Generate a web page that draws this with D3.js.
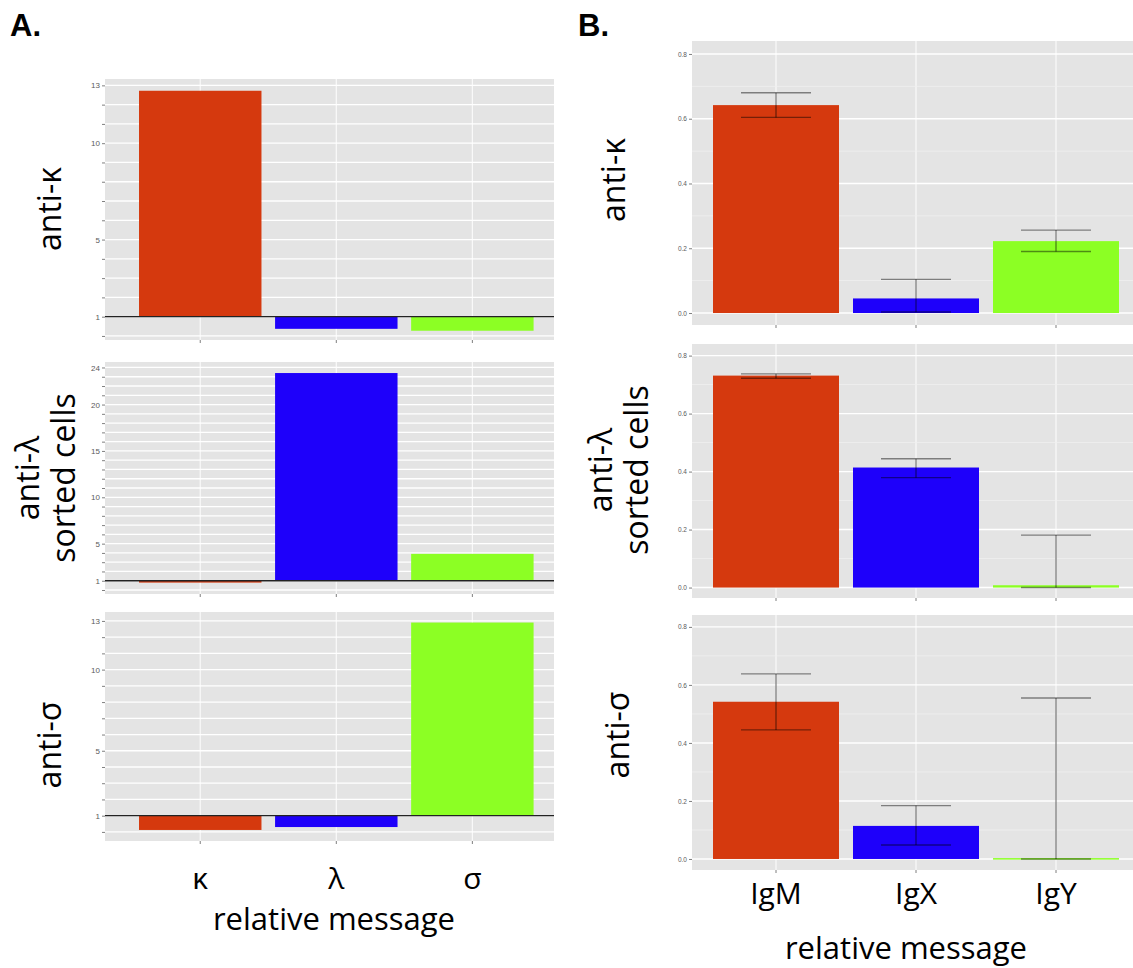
<!DOCTYPE html>
<html>
<head>
<meta charset="utf-8">
<script src="https://cdn.jsdelivr.net/npm/d3@7"></script>
<style>
  body { margin: 0; background: #fff; }
  svg { display: block; }
  .lbl { font-family: "Open Sans", sans-serif; fill: #000; }
  .tick text { font-family: "Liberation Sans", Arial, sans-serif; fill: #5a5a5a; }
</style>
</head>
<body>
<svg id="SVG_CONTAINER" width="1133" height="968"></svg>
<script>
// categories
const catsA = ["κ", "λ", "σ"];
const catsB = ["IgM", "IgX", "IgY"];

// panel A: relative message, baseline at 1
const aAntiKappa  = [12.72, 0.37, 0.27];
const aAntiLambda = [0.80, 23.4, 3.9];
const aAntiSigma  = [0.12, 0.30, 12.9];
const aTicksTop = [1, 5, 10, 13];
const aTicksMid = [1, 5, 10, 15, 20, 24];
const aTicksBot = [1, 5, 10, 13];

// panel B: means with error bar bounds
const bAntiKappa     = [0.642, 0.045, 0.222];
const bAntiKappaLo   = [0.604, 0.003, 0.190];
const bAntiKappaHi   = [0.680, 0.104, 0.256];
const bAntiLambda    = [0.731, 0.414, 0.008];
const bAntiLambdaLo  = [0.722, 0.379, 0.000];
const bAntiLambdaHi  = [0.737, 0.444, 0.181];
const bAntiSigma     = [0.542, 0.114, 0.003];
const bAntiSigmaLo   = [0.445, 0.048, 0.000];
const bAntiSigmaHi   = [0.638, 0.184, 0.555];
const bTicks = [0, 0.2, 0.4, 0.6, 0.8];

const COLOURS = ["#D5390E", "#1E00FA", "#8CFF24"];

window.onload = function () {
    let svg = d3.select("#SVG_CONTAINER");

    // ** PANEL A *****************************************
    let xA = d3.scaleLinear().domain([-0.7, 2.6]).range([105, 554]);
    panelA(svg, xA, [-0.21, 13.33], [340, 79], aAntiKappa, aTicksTop);
    panelA(svg, xA, [-0.43, 24.59], [594, 362], aAntiLambda, aTicksMid);
    panelA(svg, xA, [-0.56, 13.55], [841, 612], aAntiSigma, aTicksBot);

    // ** PANEL B *****************************************
    let xB = d3.scaleLinear().domain([-0.6, 2.55]).range([692, 1133]);
    panelB(svg, xB, [-0.037, 0.84], [325, 41], bAntiKappa, bAntiKappaLo, bAntiKappaHi);
    panelB(svg, xB, [-0.036, 0.84], [598, 344], bAntiLambda, bAntiLambdaLo, bAntiLambdaHi);
    panelB(svg, xB, [-0.038, 0.841], [870, 615], bAntiSigma, bAntiSigmaLo, bAntiSigmaHi);

    // ** TEXTS *****************************************
    svg.append("text").attr("x", 10).attr("y", 36)
        .style("font-family", "Liberation Sans, Arial, sans-serif")
        .style("font-weight", "bold").style("font-size", "31px").text("A.");
    svg.append("text").attr("x", 578).attr("y", 36)
        .style("font-family", "Liberation Sans, Arial, sans-serif")
        .style("font-weight", "bold").style("font-size", "31px").text("B.");

    rowLabel(svg, 50, 209, ["anti-κ"]);
    rowLabel(svg, 46, 478, ["anti-λ", "sorted cells"]);
    rowLabel(svg, 50, 745, ["anti-σ"]);
    rowLabel(svg, 614, 180, ["anti-κ"]);
    rowLabel(svg, 619, 470, ["anti-λ", "sorted cells"]);
    rowLabel(svg, 618, 735, ["anti-σ"]);

    catsA.forEach(function (c, i) {
        svg.append("text").attr("class", "lbl")
            .attr("x", xA(i)).attr("y", 889)
            .attr("text-anchor", "middle").style("font-size", "30px").text(c);
    });
    svg.append("text").attr("class", "lbl")
        .attr("x", 334).attr("y", 930)
        .attr("text-anchor", "middle").style("font-size", "31px").text("relative message");

    catsB.forEach(function (c, i) {
        svg.append("text").attr("class", "lbl")
            .attr("x", xB(i)).attr("y", 904)
            .attr("text-anchor", "middle").style("font-size", "30px").text(c);
    });
    svg.append("text").attr("class", "lbl")
        .attr("x", 906).attr("y", 959)
        .attr("text-anchor", "middle").style("font-size", "31px").text("relative message");
};

// rotated row label, one or two lines
rowLabel = function (svg, x, y, lines) {
    let t = svg.append("text").attr("class", "lbl")
        .attr("transform", "translate(" + x + "," + y + ") rotate(-90)")
        .attr("text-anchor", "middle")
        .style("font-size", "32px");
    let off = -(lines.length - 1) * 0.56;
    lines.forEach(function (l, i) {
        t.append("tspan").attr("x", 0)
            .attr("dy", i === 0 ? (off + 0.35) + "em" : "1.12em")
            .text(l);
    });
};

// grey panel with gridlines
drawFrame = function (g, x, y, ncat) {
    let [x0, x1] = x.range();
    let [y0, y1] = y.range();
    g.append("rect").attr("x", x0).attr("y", y1)
        .attr("width", x1 - x0).attr("height", y0 - y1)
        .style("fill", "#E4E4E4");
    for (let i = 0; i < ncat; i++) {
        g.append("line")
            .attr("x1", x(i)).attr("x2", x(i))
            .attr("y1", y1).attr("y2", y0)
            .style("stroke", "#fafafa").style("stroke-width", 1.2);
        g.append("line")
            .attr("x1", x(i)).attr("x2", x(i))
            .attr("y1", y0).attr("y2", y0 + 3)
            .style("stroke", "#7f7f7f").style("stroke-width", 1);
    }
};

panelA = function (svg, x, domain, range, values, ticks) {
    let g = svg.append("g").attr("class", "panelA");
    let y = d3.scaleLinear().domain(domain).range(range);
    drawFrame(g, x, y, values.length);
    let [x0, x1] = x.range();
    let steps = d3.range(0, Math.floor(domain[1]) + 1);

    // gridlines at every integer
    g.selectAll(".hgrid").data(steps).enter().append("line")
        .attr("x1", x0).attr("x2", x1)
        .attr("y1", d => y(d)).attr("y2", d => y(d))
        .style("stroke", "#fff").style("stroke-width", 1.3);

    // y axis: ticks at every integer, labels at the chosen ones
    let yAxis = d3.axisLeft(y).tickValues(steps).tickSize(3).tickPadding(2)
        .tickFormat(d => ticks.includes(d) ? d : "");
    let ax = g.append("g").attr("transform", "translate(" + x0 + ",0)").call(yAxis);
    ax.select(".domain").remove();
    ax.selectAll(".tick line").style("stroke", "#7f7f7f");
    ax.selectAll(".tick text").style("font-size", "8px");

    // bars from baseline 1
    g.selectAll(".bar").data(values).enter().append("rect")
        .attr("x", (d, i) => x(i - 0.45))
        .attr("width", x(0.9) - x(0))
        .attr("y", d => y(Math.max(d, 1)))
        .attr("height", d => Math.abs(y(d) - y(1)))
        .style("fill", (d, i) => COLOURS[i]);

    g.append("line")
        .attr("x1", x0).attr("x2", x1)
        .attr("y1", y(1)).attr("y2", y(1))
        .style("stroke", "#222").style("stroke-width", 1.3);
};

panelB = function (svg, x, domain, range, values, lo, hi) {
    let g = svg.append("g").attr("class", "panelB");
    let y = d3.scaleLinear().domain(domain).range(range);
    drawFrame(g, x, y, values.length);
    let [x0, x1] = x.range();

    let minor = [0.1, 0.3, 0.5, 0.7];
    g.selectAll(".mgrid").data(minor).enter().append("line")
        .attr("x1", x0).attr("x2", x1)
        .attr("y1", d => y(d)).attr("y2", d => y(d))
        .style("stroke", "#F0F0F0").style("stroke-width", 0.8);
    g.selectAll(".hgrid").data(bTicks).enter().append("line")
        .attr("x1", x0).attr("x2", x1)
        .attr("y1", d => y(d)).attr("y2", d => y(d))
        .style("stroke", "#fff").style("stroke-width", 1.4);

    let yAxis = d3.axisLeft(y).tickValues(bTicks).tickSize(3).tickPadding(2)
        .tickFormat(d3.format(".1f"));
    let ax = g.append("g").attr("transform", "translate(" + x0 + ",0)").call(yAxis);
    ax.select(".domain").remove();
    ax.selectAll(".tick line").style("stroke", "#7f7f7f");
    ax.selectAll(".tick text").style("font-size", "6.5px");

    g.selectAll(".bar").data(values).enter().append("rect")
        .attr("x", (d, i) => x(i - 0.45))
        .attr("width", x(0.9) - x(0))
        .attr("y", d => y(d))
        .attr("height", d => Math.max(y(0) - y(d), 1.5))
        .style("fill", (d, i) => COLOURS[i]);

    // error bars
    let capW = (x(0.5) - x(0)) / 2;
    values.forEach(function (d, i) {
        let cx = x(i);
        let eb = g.append("g").style("stroke", "rgba(0,0,0,0.45)").style("stroke-width", 1.4);
        eb.append("line").attr("x1", cx).attr("x2", cx)
            .attr("y1", y(lo[i])).attr("y2", y(hi[i]));
        eb.append("line").attr("x1", cx - capW).attr("x2", cx + capW)
            .attr("y1", y(hi[i])).attr("y2", y(hi[i]));
        eb.append("line").attr("x1", cx - capW).attr("x2", cx + capW)
            .attr("y1", y(lo[i])).attr("y2", y(lo[i]));
    });
};
</script>
</body>
</html>
